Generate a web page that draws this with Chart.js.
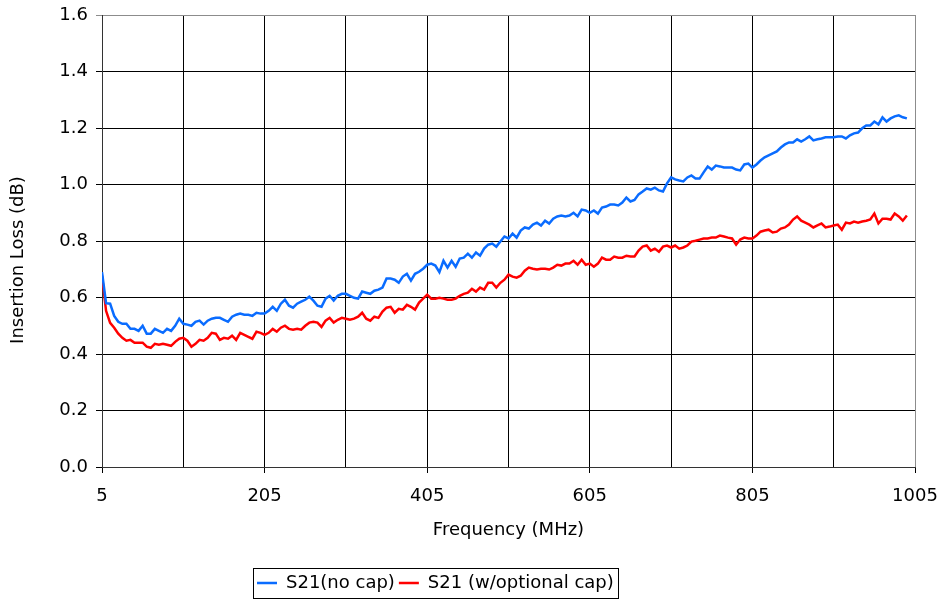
<!DOCTYPE html>
<html>
<head>
<meta charset="utf-8">
<title>Insertion Loss</title>
<script src="https://cdn.jsdelivr.net/npm/chart.js"></script>
<style>
    html, body { margin: 0; padding: 0; background: #ffffff; }
</style>
</head>
<body>
<canvas id="lossChart" width="941" height="599"></canvas>
<script>
// Fréquences (MHz)
const freqMHz = [
    5, 10, 15, 20, 25, 30, 35, 40, 45, 50, 55, 60, 65, 70, 75, 80, 85, 90, 95, 100,
    105, 110, 115, 120, 125, 130, 135, 140, 145, 150, 155, 160, 165, 170, 175, 180, 185, 190, 195, 200,
    205, 210, 215, 220, 225, 230, 235, 240, 245, 250, 255, 260, 265, 270, 275, 280, 285, 290, 295, 300,
    305, 310, 315, 320, 325, 330, 335, 340, 345, 350, 355, 360, 365, 370, 375, 380, 385, 390, 395, 400,
    405, 410, 415, 420, 425, 430, 435, 440, 445, 450, 455, 460, 465, 470, 475, 480, 485, 490, 495, 500,
    505, 510, 515, 520, 525, 530, 535, 540, 545, 550, 555, 560, 565, 570, 575, 580, 585, 590, 595, 600,
    605, 610, 615, 620, 625, 630, 635, 640, 645, 650, 655, 660, 665, 670, 675, 680, 685, 690, 695, 700,
    705, 710, 715, 720, 725, 730, 735, 740, 745, 750, 755, 760, 765, 770, 775, 780, 785, 790, 795, 800,
    805, 810, 815, 820, 825, 830, 835, 840, 845, 850, 855, 860, 865, 870, 875, 880, 885, 890, 895, 900,
    905, 910, 915, 920, 925, 930, 935, 940, 945, 950, 955, 960, 965, 970, 975, 980, 985, 990, 995
];

// S21 sans condensateur (dB)
const s21NoCap = [
    0.690, 0.580, 0.578, 0.535, 0.514, 0.507, 0.507, 0.489, 0.489, 0.482, 0.500, 0.472, 0.472, 0.489, 0.482, 0.475, 0.489, 0.482, 0.500, 0.525,
    0.507, 0.504, 0.500, 0.514, 0.518, 0.504, 0.518, 0.525, 0.528, 0.528, 0.521, 0.514, 0.532, 0.539, 0.543, 0.539, 0.539, 0.535, 0.546, 0.543,
    0.543, 0.553, 0.567, 0.553, 0.578, 0.592, 0.571, 0.564, 0.578, 0.585, 0.592, 0.603, 0.589, 0.571, 0.567, 0.596, 0.606, 0.589, 0.606, 0.613,
    0.613, 0.606, 0.599, 0.596, 0.621, 0.617, 0.613, 0.624, 0.628, 0.635, 0.667, 0.667, 0.663, 0.652, 0.674, 0.684, 0.660, 0.684, 0.691, 0.702,
    0.716, 0.720, 0.713, 0.690, 0.730, 0.706, 0.730, 0.709, 0.738, 0.741, 0.755, 0.741, 0.759, 0.748, 0.773, 0.787, 0.791, 0.780, 0.798, 0.816,
    0.809, 0.826, 0.812, 0.837, 0.848, 0.844, 0.858, 0.865, 0.855, 0.872, 0.862, 0.879, 0.887, 0.890, 0.887, 0.890, 0.900, 0.887, 0.911, 0.908,
    0.900, 0.908, 0.897, 0.918, 0.922, 0.929, 0.929, 0.926, 0.936, 0.954, 0.940, 0.945, 0.965, 0.975, 0.986, 0.982, 0.989, 0.979, 0.975, 1.004,
    1.025, 1.018, 1.014, 1.011, 1.025, 1.032, 1.021, 1.021, 1.043, 1.064, 1.053, 1.067, 1.064, 1.060, 1.060, 1.060, 1.053, 1.050, 1.071, 1.074,
    1.060, 1.071, 1.085, 1.096, 1.103, 1.110, 1.117, 1.131, 1.142, 1.149, 1.149, 1.160, 1.152, 1.160, 1.170, 1.156, 1.160, 1.163, 1.167, 1.167,
    1.167, 1.170, 1.170, 1.163, 1.174, 1.181, 1.184, 1.199, 1.209, 1.209, 1.223, 1.213, 1.238, 1.223, 1.234, 1.241, 1.245, 1.238, 1.234
];

// S21 avec condensateur optionnel (dB)
const s21OptCap = [
    0.677, 0.553, 0.510, 0.493, 0.472, 0.457, 0.447, 0.450, 0.440, 0.440, 0.440, 0.426, 0.422, 0.436, 0.433, 0.436, 0.433, 0.429, 0.443, 0.454,
    0.457, 0.447, 0.426, 0.436, 0.450, 0.447, 0.457, 0.475, 0.472, 0.450, 0.457, 0.454, 0.465, 0.450, 0.475, 0.468, 0.461, 0.454, 0.479, 0.475,
    0.468, 0.475, 0.489, 0.479, 0.493, 0.500, 0.489, 0.486, 0.489, 0.486, 0.500, 0.511, 0.514, 0.511, 0.496, 0.518, 0.528, 0.511, 0.521, 0.528,
    0.525, 0.521, 0.525, 0.532, 0.546, 0.525, 0.518, 0.532, 0.528, 0.550, 0.564, 0.567, 0.546, 0.560, 0.557, 0.574, 0.567, 0.557, 0.582, 0.596,
    0.610, 0.596, 0.596, 0.599, 0.596, 0.592, 0.592, 0.596, 0.606, 0.613, 0.617, 0.631, 0.621, 0.635, 0.628, 0.652, 0.652, 0.635, 0.652, 0.663,
    0.681, 0.674, 0.670, 0.677, 0.695, 0.706, 0.702, 0.699, 0.702, 0.702, 0.699, 0.706, 0.716, 0.713, 0.720, 0.720, 0.730, 0.716, 0.734, 0.716,
    0.720, 0.709, 0.720, 0.741, 0.734, 0.734, 0.745, 0.741, 0.741, 0.748, 0.745, 0.745, 0.766, 0.780, 0.784, 0.766, 0.773, 0.762, 0.780, 0.784,
    0.777, 0.784, 0.773, 0.777, 0.784, 0.798, 0.801, 0.805, 0.809, 0.809, 0.812, 0.812, 0.819, 0.816, 0.812, 0.809, 0.787, 0.805, 0.812, 0.809,
    0.809, 0.819, 0.833, 0.837, 0.840, 0.830, 0.833, 0.844, 0.848, 0.858, 0.876, 0.887, 0.872, 0.865, 0.858, 0.848, 0.855, 0.862, 0.848, 0.851,
    0.855, 0.858, 0.840, 0.865, 0.862, 0.869, 0.865, 0.869, 0.872, 0.876, 0.897, 0.862, 0.879, 0.879, 0.876, 0.897, 0.887, 0.872, 0.890
];

// Graduations
const xGridTicks = [5, 105, 205, 305, 405, 505, 605, 705, 805, 905, 1005];
const xLabelTicks = [5, 205, 405, 605, 805, 1005];
const seriesNames = ['S21(no cap)', 'S21 (w/optional cap)'];

document.addEventListener('DOMContentLoaded', function() {
    const fontFamily = '"DejaVu Sans", Verdana, sans-serif';
    const fontSize = 18;
    const ctx = document.getElementById('lossChart').getContext('2d');

    // Légende décalée, cadre de la légende + titre de l'axe Y
    const extras = {
        id: 'extras',
        afterLayout(chart) {
            const legend = chart.legend;
            if (legend && legend.lineWidths) {
                const startX = 257;
                legend.right = 2 * startX - (legend.left + legend.options.labels.padding) + legend.lineWidths[0];
            }
        },
        afterDraw(chart) {
            const c = chart.ctx;
            const boxes = chart.legend.legendHitBoxes;
            if (boxes && boxes.length) {
                const first = boxes[0];
                const last = boxes[boxes.length - 1];
                const left = first.left - 4;
                const right = last.left + last.width + 4;
                const top = first.top - 6;
                const bottom = first.top + first.height + 6;
                c.save();
                c.strokeStyle = '#000';
                c.lineWidth = 1;
                c.strokeRect(Math.round(left) + 0.5, Math.round(top) + 0.5, Math.round(right - left), Math.round(bottom - top));
                c.restore();
            }
            c.save();
            c.translate(18, 260);
            c.rotate(-Math.PI / 2);
            c.fillStyle = '#000';
            c.font = fontSize + 'px ' + fontFamily;
            c.textAlign = 'center';
            c.textBaseline = 'middle';
            c.fillText('Insertion Loss (dB)', 0, 0);
            c.restore();
        }
    };

    new Chart(ctx, {
        type: 'line',
        data: {
            datasets: [
                {
                    label: seriesNames[0],
                    data: freqMHz.map((f, i) => ({ x: f, y: s21NoCap[i] })),
                    borderColor: '#0a6cff',
                    backgroundColor: '#0a6cff',
                    borderWidth: 2.5
                },
                {
                    label: seriesNames[1],
                    data: freqMHz.map((f, i) => ({ x: f, y: s21OptCap[i] })),
                    borderColor: '#ff0000',
                    backgroundColor: '#ff0000',
                    borderWidth: 2.5
                }
            ]
        },
        options: {
            responsive: false,
            animation: false,
            devicePixelRatio: 1,
            elements: {
                point: { radius: 0 },
                line: { tension: 0 }
            },
            layout: {
                padding: { top: 15, right: 26, left: 0, bottom: -3 }
            },
            plugins: {
                tooltip: { enabled: false },
                legend: {
                    position: 'bottom',
                    labels: {
                        font: { family: fontFamily, size: fontSize },
                        color: '#000',
                        boxWidth: 20,
                        boxHeight: 0,
                        padding: 4
                    }
                }
            },
            scales: {
                x: {
                    type: 'linear',
                    min: 5,
                    max: 1005,
                    afterBuildTicks: scale => {
                        scale.ticks = xGridTicks.map(v => ({ value: v }));
                    },
                    afterFit: scale => {
                        scale.height = 103;
                        scale.paddingLeft = 0;
                        scale.paddingRight = 0;
                    },
                    ticks: {
                        autoSkip: false,
                        maxRotation: 0,
                        padding: 13,
                        color: '#000',
                        font: { family: fontFamily, size: fontSize },
                        callback: value => xLabelTicks.includes(value) ? String(value) : ''
                    },
                    grid: {
                        color: c => (c.tick && c.tick.value === 1005) ? '#8c8c8c' : '#000',
                        tickColor: c => (c.tick && xLabelTicks.includes(c.tick.value)) ? '#000' : 'rgba(0,0,0,0)',
                        tickLength: 6,
                        lineWidth: 1
                    },
                    border: { color: '#333', width: 1 },
                    title: {
                        display: true,
                        text: 'Frequency (MHz)',
                        color: '#000',
                        font: { family: fontFamily, size: fontSize },
                        padding: { top: 4, bottom: 29 }
                    }
                },
                y: {
                    min: 0,
                    max: 1.6,
                    afterFit: scale => {
                        scale.width = 102;
                        scale.paddingTop = 0;
                        scale.paddingBottom = 0;
                    },
                    ticks: {
                        stepSize: 0.2,
                        padding: 8,
                        color: '#000',
                        font: { family: fontFamily, size: fontSize },
                        callback: value => value.toFixed(1)
                    },
                    grid: {
                        color: c => (c.tick && Math.abs(c.tick.value - 1.6) < 1e-6) ? '#8c8c8c' : '#000',
                        tickLength: 6,
                        lineWidth: 1
                    },
                    border: { color: '#333', width: 1 }
                }
            }
        },
        plugins: [extras]
    });
});
</script>
</body>
</html>
